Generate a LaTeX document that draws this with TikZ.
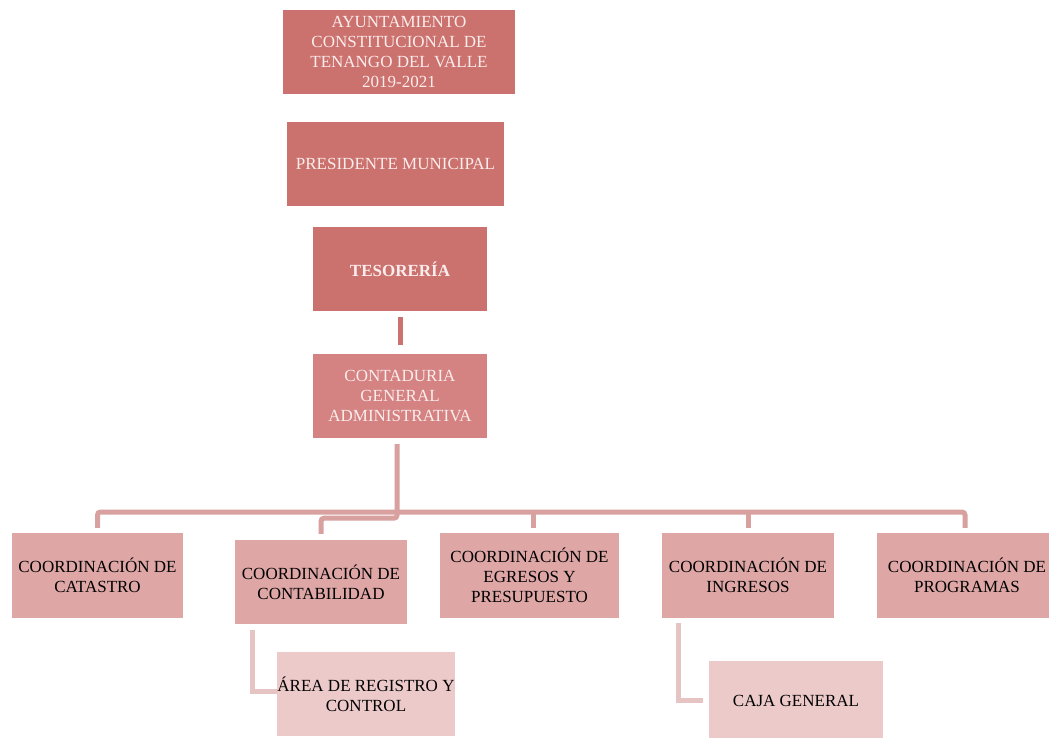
\documentclass[tikz,border=0pt]{standalone}
\usepackage{fontspec}
\setmainfont{Liberation Serif}
\usetikzlibrary{calc}
\definecolor{cdark}{HTML}{CB716E}
\definecolor{cmid}{HTML}{D48282}
\definecolor{clight}{HTML}{DFA6A6}
\definecolor{cpale}{HTML}{EDCACA}
\definecolor{lmain}{HTML}{D9A0A0}
\definecolor{lsub}{HTML}{E7C4C4}
\definecolor{tlight}{HTML}{FBEDEC}
\tikzset{
  box/.style={fill=#1, draw=none, inner sep=0pt, align=center,
    font=\fontsize{17}{20}\selectfont},
  topbox/.style={box=cdark, text=tlight},
  lowbox/.style={box=clight, text=black},
  subbox/.style={box=cpale, text=black},
  conn/.style={draw=lmain, line width=5pt, rounded corners=3pt},
  subconn/.style={draw=lsub, line width=5pt},
}
\begin{document}
\begin{tikzpicture}[x=1pt,y=-1pt]
\useasboundingbox (0,0) rectangle (1049,738);
\node[topbox, minimum width=232pt, minimum height=84pt] (ayu) at (399,52)
  {AYUNTAMIENTO\\CONSTITUCIONAL DE\\TENANGO DEL VALLE\\2019-2021};
\node[topbox, minimum width=217pt, minimum height=84pt] (pres) at (395.5,164)
  {PRESIDENTE MUNICIPAL};
\node[topbox, minimum width=174pt, minimum height=84pt, font=\fontsize{17}{20}\selectfont\bfseries] (tes) at (400,269)
  {TESORERÍA};
\node[box=cmid, text=tlight, minimum width=174pt, minimum height=84pt] (cont) at (400,396)
  {CONTADURIA\\GENERAL\\ADMINISTRATIVA};
\node[lowbox, minimum width=171pt, minimum height=85pt] (cat) at (97.5,575.5)
  {COORDINACIÓN DE\\CATASTRO};
\node[lowbox, minimum width=172pt, minimum height=84pt] (cb) at (321,582)
  {COORDINACIÓN DE\\CONTABILIDAD};
\node[lowbox, minimum width=179pt, minimum height=85pt] (egr) at (529.5,575.5)
  {COORDINACIÓN DE\\EGRESOS Y\\PRESUPUESTO};
\node[lowbox, minimum width=172pt, minimum height=85pt] (ing) at (748,575.5)
  {COORDINACIÓN DE\\INGRESOS};
\node[lowbox, minimum width=180pt, minimum height=85pt] (prog) at (967,575.5)
  {COORDINACIÓN DE\\PROGRAMAS};
\node[subbox, minimum width=174pt, minimum height=84pt] (area) at (366,694)
  {ÁREA DE REGISTRO Y\\CONTROL};
\node[subbox, minimum width=174pt, minimum height=80pt] (caja) at (796,701)
  {CAJA GENERAL};
% connectors
\coordinate (bus) at (0,512);
\draw[draw=cdark, line width=5pt] ($(tes.south)+(0,6)$) -- ($(cont.north)+(0,-9)$);
\draw[conn] ($(cat.north)+(0,-5)$) -- (cat.north |- bus) -- ($(prog.north |- bus)+(-2,0)$) -- ($(prog.north)+(-2,-5)$);
\draw[conn] ($(egr.north)+(3.5,-5)$) -- ($(egr.north |- bus)+(3.5,0)$);
\draw[conn] ($(ing.north)+(0,-5)$) -- (ing.north |- bus);
\draw[conn] ($(cont.south)+(-3,6)$) -- ($(cont.south)+(-3,80)$) -| ($(cb.north)+(0,-6)$);
\draw[subconn] ($(cb.south west)+(18,6)$) |- ($(area.west)+(0,-3)$);
\draw[subconn] ($(ing.south west)+(17,5)$) |- ($(caja.west)+(-6,-1)$);
\end{tikzpicture}
\end{document}
